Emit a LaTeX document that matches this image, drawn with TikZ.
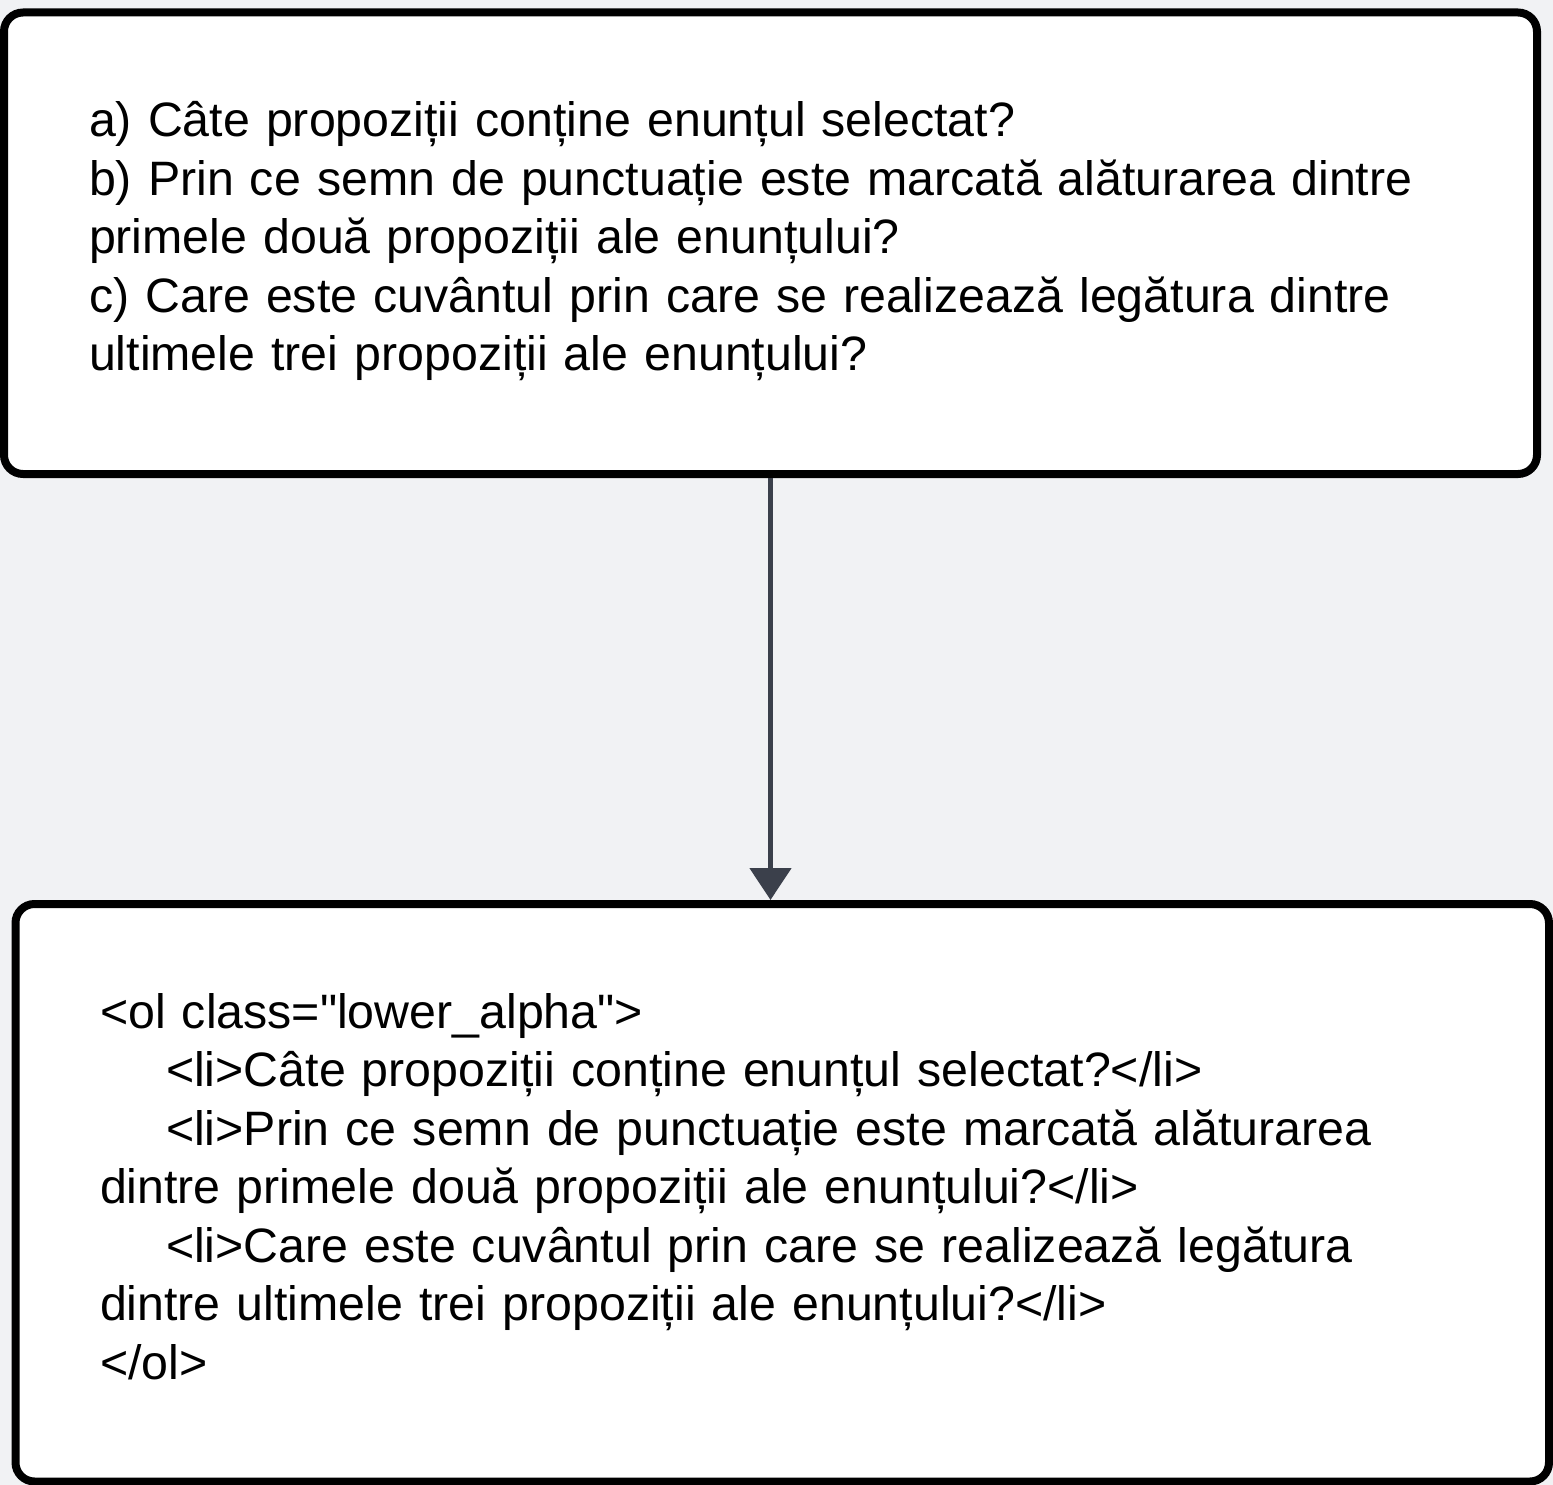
\documentclass[tikz,border=0pt]{standalone}
\usepackage{fontspec}
\setmainfont{Liberation Sans}
\usepackage{xcolor}
\usetikzlibrary{arrows.meta}

\definecolor{pagebg}{HTML}{F1F2F4}
\definecolor{arrowgray}{HTML}{3B404B}

\tikzset{
  qbox/.style={draw=black, fill=white, line width=8pt, rounded corners=19pt,
    align=left, font=\fontsize{48.3}{58.5}\selectfont},
  flow/.style={draw=arrowgray, line width=5pt,
    -{Triangle[width=41pt,length=32pt]}, arrowgray}
}

\newcommand{\ind}{\hspace*{66pt}}
\newcommand{\dq}{\XeTeXglyph\XeTeXcharglyph"22\relax}

\begin{document}
\begin{tikzpicture}[x=1pt,y=-1pt]
        \fill[pagebg] (0,0) rectangle (1553,1485);
        \useasboundingbox (0,0) rectangle (1553,1485);

        \node[qbox, minimum width=1533pt, minimum height=461.5pt,
          inner xsep=85pt, text width=1363pt, text depth=248pt] (Q) at (770.5, 243.25)
          {a) Câte propoziții conține enunțul selectat?\\
           b) Prin ce semn de punctuație este marcată alăturarea dintre\\
           primele două propoziții ale enunțului?\\
           c) Care este cuvântul prin care se realizează legătura dintre\\
           ultimele trei propoziții ale enunțului?};

        \node[qbox, minimum width=1533.5pt, minimum height=577.5pt,
          inner xsep=84.5pt, text width=1364.5pt, text depth=364pt] (H) at (782.25, 1192.75)
          {<ol class=\dq lower\_alpha\dq>\\
           \ind<li>Câte propoziții conține enunțul selectat?</li>\\
           \ind<li>Prin ce semn de punctuație este marcată alăturarea\\
           dintre primele două propoziții ale enunțului?</li>\\
           \ind<li>Care este cuvântul prin care se realizează legătura\\
           dintre ultimele trei propoziții ale enunțului?</li>\\
           </ol>};

        \draw[flow] (Q.south) -- (Q.south |- H.north);

      \end{tikzpicture}
\end{document}
